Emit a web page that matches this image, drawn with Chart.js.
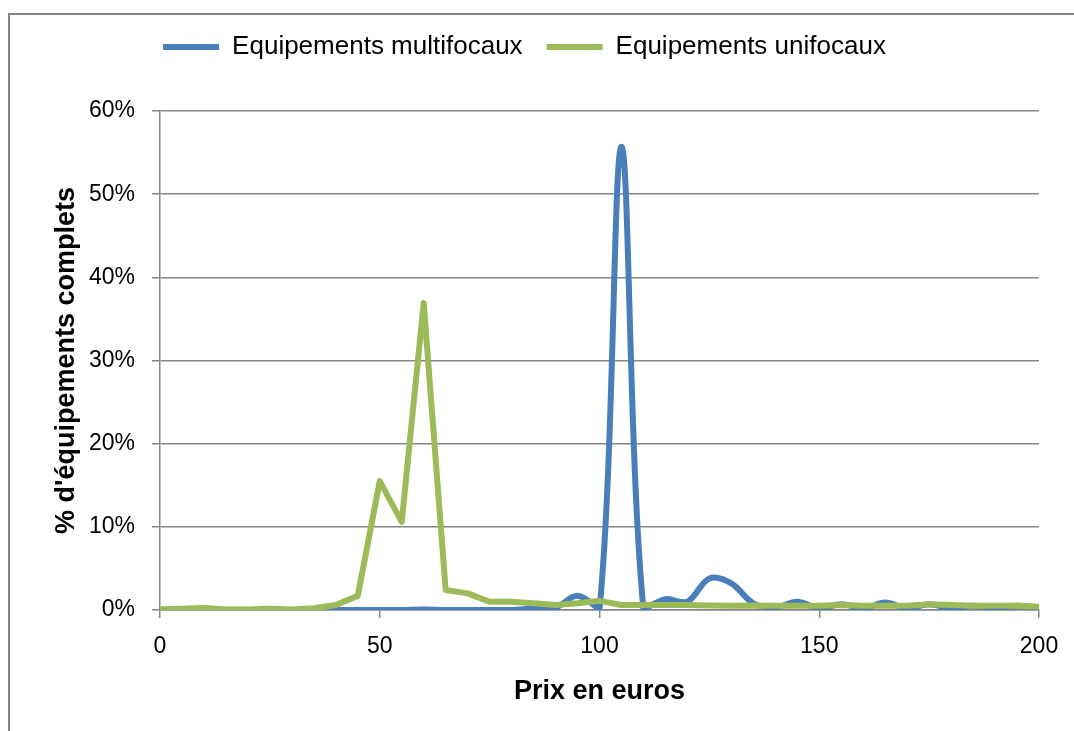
<!DOCTYPE html>
<html>
<head>
<meta charset="utf-8">
<script src="https://cdn.jsdelivr.net/npm/chart.js@4"></script>
<style>
  html, body { margin: 0; padding: 0; background: #fff; }
  #wrap { position: relative; width: 1074px; height: 731px; overflow: hidden; }
  #frame {
    position: absolute; left: 8px; top: 13px; width: 1200px; height: 900px;
    border-left: 2px solid #868686; border-top: 2px solid #868686;
  }
  #chart { position: absolute; left: 0; top: 0; }
</style>
</head>
<body>
<div id="wrap">
  <div id="frame"></div>
  <canvas id="chart" width="1074" height="731"></canvas>
</div>
<script>
  // prix en euros (pas de 5)
  const prices = [0, 5, 10, 15, 20, 25, 30, 35, 40, 45, 50, 55, 60, 65, 70, 75, 80, 85, 90, 95, 100,
    105, 110, 115, 120, 125, 130, 135, 140, 145, 150, 155, 160, 165, 170, 175, 180, 185, 190, 195, 200];

  // % d'équipements complets
  const multifocaux = [0, 0, 0, 0, 0, 0, 0, 0, 0, 0, 0, 0, 0.05, 0, 0, 0, 0, 0.2, 0.3, 1.7, 0.1,
    55.7, 0.1, 1.3, 1.0, 3.8, 3.2, 0.8, 0.3, 1.0, 0.2, 0.7, 0.2, 0.9, 0.2, 0.7, 0.2, 0.5, 0.3, 0.5, 0.3];
  const unifocaux = [0.1, 0.15, 0.25, 0.05, 0.05, 0.15, 0.05, 0.2, 0.6, 1.7, 15.5, 10.6, 36.9, 2.4, 2.0, 1.0, 1.0, 0.8, 0.6, 0.8, 1.1,
    0.6, 0.6, 0.6, 0.6, 0.55, 0.5, 0.55, 0.5, 0.5, 0.5, 0.6, 0.5, 0.5, 0.5, 0.7, 0.6, 0.5, 0.5, 0.5, 0.4];

  const seriesNames = ["Equipements multifocaux", "Equipements unifocaux"];
  const xTitle = "Prix en euros";
  const yTitle = "% d'équipements complets";

  const FONT = "'Liberation Sans', Arial, sans-serif";
  const GRAY = "#868686";

  function toPoints(values) {
    return prices.map((p, i) => ({ x: p, y: values[i] }));
  }

  // espace entre légende et zone de tracé
  const legendGap = {
    id: "legendGap",
    beforeInit(chart) {
      if (!chart.legend) return;
      const fit = chart.legend.fit;
      chart.legend.fit = function () {
        fit.call(this);
        this.height += 41;
      };
    },
  };

  new Chart(document.getElementById("chart"), {
    type: "line",
    data: {
      datasets: [
        {
          label: seriesNames[0],
          data: toPoints(multifocaux),
          borderColor: "#4A7EBB",
          backgroundColor: "#4A7EBB",
          borderWidth: 6,
          borderCapStyle: "round",
          borderJoinStyle: "round",
          pointRadius: 0,
          tension: 0.35,
          order: 1,
        },
        {
          label: seriesNames[1],
          data: toPoints(unifocaux),
          borderColor: "#9BBB59",
          backgroundColor: "#9BBB59",
          borderWidth: 6,
          borderCapStyle: "round",
          borderJoinStyle: "round",
          pointRadius: 0,
          tension: 0,
          order: 0,
        },
      ],
    },
    plugins: [legendGap],
    options: {
      responsive: false,
      animation: false,
      parsing: false,
      layout: { padding: { top: 10, left: 10, right: 35, bottom: 0 } },
      plugins: {
        legend: {
          display: true,
          position: "top",
          labels: {
            usePointStyle: true,
            pointStyle: "line",
            pointStyleWidth: 56,
            padding: 24,
            color: "#000",
            font: { family: FONT, size: 26 },
            sort: (a, b) => a.datasetIndex - b.datasetIndex,
          },
        },
        tooltip: { enabled: false },
      },
      scales: {
        x: {
          type: "linear",
          min: 0,
          max: 200,
          ticks: {
            stepSize: 50,
            color: "#000",
            padding: 15,
            font: { family: FONT, size: 23 },
          },
          grid: {
            drawOnChartArea: false,
            drawTicks: true,
            tickLength: 8,
            color: GRAY,
            lineWidth: 1.5,
          },
          border: { color: GRAY, width: 1.5 },
          title: {
            display: true,
            text: xTitle,
            color: "#000",
            font: { family: FONT, size: 27, weight: "bold" },
            padding: { top: 0, bottom: 23 },
          },
          afterFit(scale) {
            scale.height = 121;
          },
        },
        y: {
          min: 0,
          max: 60,
          ticks: {
            stepSize: 10,
            color: "#000",
            padding: 17,
            font: { family: FONT, size: 23 },
            callback: (v) => v + "%",
          },
          grid: {
            drawTicks: true,
            tickLength: 8,
            color: GRAY,
            lineWidth: 1.5,
          },
          border: { color: GRAY, width: 1.5 },
          title: {
            display: true,
            text: yTitle,
            color: "#000",
            font: { family: FONT, size: 27, weight: "bold" },
            padding: { top: 40, bottom: 0 },
          },
          afterFit(scale) {
            scale.width = 150;
          },
        },
      },
    },
  });
</script>
</body>
</html>
